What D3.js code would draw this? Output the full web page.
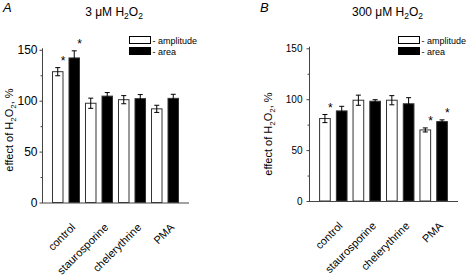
<!DOCTYPE html>
<html>
<head>
<meta charset="utf-8">
<script src="https://cdn.jsdelivr.net/npm/d3@7"></script>
<style>
  body { margin: 0; background: #fff; }
  svg { display: block; font-family: "Liberation Sans", Arial, sans-serif; }
</style>
</head>
<body>
<svg id="chart" width="470" height="278"></svg>
<script>
'use strict';

// treatments and the two measured series
var categories = ['control', 'staurosporine', 'chelerythrine', 'PMA'];
var seriesNames = ['amplitude', 'area'];
var yTicks = [0, 50, 100, 150];
var yMinorTicks = [25, 75, 125];

// panel A: 3 uM H2O2
var ampA = [128.5, 97.5, 101, 92];
var ampErrA = [4, 5, 4, 3.5];
var areaA = [142, 104.5, 102, 102.3];
var areaErrA = [7, 3.5, 4, 4];
var ampSigA = [true, false, false, false];
var areaSigA = [true, false, false, false];

// panel B: 300 uM H2O2
var ampB = [81, 99, 99, 69.8];
var ampErrB = [4, 5, 4.5, 2];
var areaB = [88.5, 98, 95.5, 78];
var areaErrB = [4.5, 1.5, 6, 1.7];
var ampSigB = [true, false, false, true];
var areaSigB = [false, false, false, true];

var svg = d3.select('#chart');

function BuildRows(aAmp, aAmpErr, aAmpSig, aArea, aAreaErr, aAreaSig)
{
	var aRows = [];
	categories.forEach(function(c, i) {
		aRows.push({cat: c, series: 'amplitude', value: aAmp[i], err: aAmpErr[i], sig: aAmpSig[i]});
		aRows.push({cat: c, series: 'area', value: aArea[i], err: aAreaErr[i], sig: aAreaSig[i]});
	});
	return aRows;
}

function DrawPanel(p)
{
	var g = svg.append('g');

	var y = d3.scaleLinear().domain([0, 150]).range([p.y0, p.y150]);
	var yAxisScale = y.copy().domain([0, 152]).range([p.y0, y(152)]);

	var x = d3.scaleBand().domain(categories)
		.range([p.xAxis, p.xEnd]).paddingInner(0).paddingOuter(0.227);
	var xs = d3.scaleBand().domain(seriesNames)
		.range([3, x.bandwidth() - 3]).paddingInner(0.3636).paddingOuter(0);

	// panel letter and title
	g.append('text')
		.attr('x', p.letterX).attr('y', 12)
		.attr('font-size', 13).attr('font-style', 'italic')
		.text(p.letter);

	var title = g.append('text')
		.attr('x', p.titleX).attr('y', 15.5)
		.attr('font-size', 12).attr('text-anchor', 'middle');
	title.append('tspan').text(p.conc + ' \u03bcM H');
	title.append('tspan').attr('font-size', 8.5).attr('dy', 3).text('2');
	title.append('tspan').attr('dy', -3).text('O');
	title.append('tspan').attr('font-size', 8.5).attr('dy', 3).text('2');

	// bars
	var aRows = p.rows;
	var bar = g.append('g').selectAll('g')
		.data(aRows)
		.join('g')
		.attr('transform', d => `translate(${x(d.cat) + xs(d.series)},0)`);

	bar.append('rect')
		.attr('x', 0)
		.attr('y', d => y(d.value))
		.attr('width', xs.bandwidth())
		.attr('height', d => y(0) - y(d.value))
		.attr('fill', d => d.series == 'area' ? '#000' : '#fff')
		.attr('stroke', '#333')
		.attr('stroke-width', 1);

	var bw = xs.bandwidth();
	bar.append('path')
		.attr('d', d => {
			var t = y(d.value + d.err), b = y(d.value - d.err), m = bw / 2;
			return `M${m},${t}V${b}M${m - 2.5},${t}H${m + 2.5}M${m - 2.5},${b}H${m + 2.5}`;
		})
		.attr('fill', 'none')
		.attr('stroke', '#000')
		.attr('stroke-width', 1);

	bar.filter(d => d.sig).append('text')
		.attr('x', bw)
		.attr('y', d => y(d.value + d.err) - 2.5)
		.attr('text-anchor', 'middle')
		.attr('font-size', 12)
		.text('*');

	// y axis
	var yAxis = g.append('g')
		.attr('transform', `translate(${p.xAxis},0)`)
		.call(d3.axisLeft(yAxisScale).tickValues(yTicks).tickSize(2.5).tickSizeOuter(0).tickPadding(p.tickPad));
	yAxis.selectAll('text').attr('font-size', p.tickFont).attr('fill', '#000')
		.attr('font-family', '"Liberation Sans", Arial, sans-serif');
	yAxis.select('.domain').attr('stroke', '#444');
	yAxis.selectAll('.tick line').attr('stroke', '#444');

	g.append('g')
		.selectAll('line')
		.data(yMinorTicks)
		.join('line')
		.attr('x1', p.xAxis - 1.5).attr('x2', p.xAxis)
		.attr('y1', d => y(d) + 0.5).attr('y2', d => y(d) + 0.5)
		.attr('stroke', '#444');

	// x axis
	g.append('line')
		.attr('x1', p.xAxis).attr('x2', p.xEnd)
		.attr('y1', y(0) + 0.5).attr('y2', y(0) + 0.5)
		.attr('stroke', '#444');

	g.append('g')
		.selectAll('text')
		.data(categories)
		.join('text')
		.attr('transform', d => `translate(${x(d) + x.bandwidth() / 2 + 10},${p.y0 + 25.5}) rotate(-45)`)
		.attr('text-anchor', 'end')
		.attr('font-size', 11)
		.text(d => d);

	// y label
	var yl = g.append('text')
		.attr('transform', `translate(${p.yLabelX},${p.yLabelY}) rotate(-90)`)
		.attr('text-anchor', 'middle')
		.attr('font-size', 11);
	yl.append('tspan').text('effect of H');
	yl.append('tspan').attr('font-size', 8).attr('dy', 3).text('2');
	yl.append('tspan').attr('dy', -3).text('O');
	yl.append('tspan').attr('font-size', 8).attr('dy', 3).text('2');
	yl.append('tspan').attr('dy', -3).text(', %');

	// legend
	var lg = g.append('g');
	seriesNames.forEach(function(s, i) {
		lg.append('rect')
			.attr('x', p.legendX).attr('y', 36.5 + i * 11)
			.attr('width', 21).attr('height', 7)
			.attr('fill', s == 'area' ? '#000' : '#fff')
			.attr('stroke', '#000');
		lg.append('text')
			.attr('x', p.legendX + 23).attr('y', 43.5 + i * 11)
			.attr('font-size', 9)
			.text('- ' + s);
	});
}

DrawPanel({
	letter: 'A', letterX: 3, conc: '3', titleX: 114,
	xAxis: 42, xEnd: 189, y0: 202.5, y150: 49.8,
	tickFont: 12, tickPad: 2, yLabelX: 13, yLabelY: 130, legendX: 129.5,
	rows: BuildRows(ampA, ampErrA, ampSigA, areaA, areaErrA, areaSigA)
});

DrawPanel({
	letter: 'B', letterX: 260, conc: '300', titleX: 387.5,
	xAxis: 309, xEnd: 458, y0: 201, y150: 48.3,
	tickFont: 10, tickPad: 4, yLabelX: 272, yLabelY: 134, legendX: 398.5,
	rows: BuildRows(ampB, ampErrB, ampSigB, areaB, areaErrB, areaSigB)
});
</script>
</body>
</html>
